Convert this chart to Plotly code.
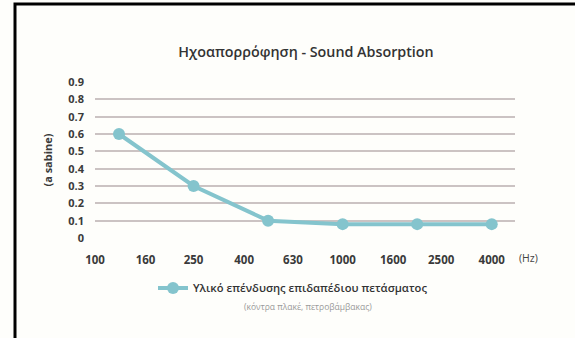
import plotly.graph_objects as go

# Data
frequencies = [125, 250, 500, 1000, 2000, 4000]
absorption = [0.60, 0.30, 0.10, 0.08, 0.08, 0.08]
x_tick_vals = [100, 160, 250, 400, 630, 1000, 1600, 2500, 4000]
x_tick_text = ["100", "160", "250", "400", "630", "1000", "1600", "2500", "4000"]
y_tick_vals = [0, 0.1, 0.2, 0.3, 0.4, 0.5, 0.6, 0.7, 0.8, 0.9]
y_tick_text = ["0", "0.1", "0.2", "0.3", "0.4", "0.5", "0.6", "0.7", "0.8", "0.9"]
series_name = "Υλικό επένδυσης επιδαπέδιου πετάσματος"
series_note = "(κόντρα πλακέ, πετροβάμβακας)"
title_text = "Ηχοαπορρόφηση - Sound Absorption"

W, H = 575, 338
L, R, T, B = 95, 60, 82, 100
pw, ph = W - L - R, H - T - B

def px_x(p):
    return (p - L) / pw

def px_y(p):
    return (H - B - p) / ph

LINE = "#84c4cd"
GRID = "#cbc3c3"
FONT = "Open Sans"

fig = go.Figure()
fig.add_trace(go.Scatter(
    x=frequencies, y=absorption, mode="lines+markers", name=series_name,
    line=dict(color=LINE, width=4),
    marker=dict(color=LINE, size=12),
))

fig.update_layout(
    width=W, height=H,
    margin=dict(l=L, r=R, t=T, b=B),
    paper_bgcolor="#fefefb", plot_bgcolor="#fefefb",
    font=dict(family=FONT, color="#3a3a3a"),
    title=dict(text=title_text, x=306 / W, xanchor="center", xref="container",
               y=1 - 52 / H, yanchor="middle", yref="container",
               font=dict(size=14.3, family=FONT, weight=600, color="#333333")),
    xaxis=dict(type="log", range=[2, 3.696], tickvals=x_tick_vals, ticktext=x_tick_text,
               showgrid=False, zeroline=False, showline=False, ticks="",
               tickfont=dict(size=11.5, family=FONT, weight=700, color="#3a3a3a"),
               ticklabelstandoff=13),
    yaxis=dict(range=[0, 0.9], tickvals=y_tick_vals, ticktext=y_tick_text,
               showgrid=True, gridcolor=GRID, gridwidth=1.5, zeroline=False,
               showline=False, ticks="",
               tickfont=dict(size=11, family=FONT, weight=700, color="#3a3a3a"),
               ticklabelstandoff=10,
               title=dict(text="(a sabine)", standoff=13,
                          font=dict(size=11, family=FONT, weight=700, color="#3a3a3a"))),
    showlegend=True,
    legend=dict(orientation="h", x=px_x(153), xanchor="left", y=px_y(288), yanchor="middle",
                bgcolor="rgba(0,0,0,0)",
                font=dict(size=11.2, family=FONT, weight=600, color="#333333")),
    annotations=[
        dict(text="(Hz)", x=px_x(528), y=px_y(258), xref="paper", yref="paper",
             xanchor="center", yanchor="middle",
             showarrow=False, font=dict(size=10.5, family=FONT, color="#444444")),
        dict(text=series_note, x=px_x(308), y=px_y(306), xref="paper", yref="paper",
             xanchor="center", yanchor="middle",
             showarrow=False, font=dict(size=8.5, family=FONT, color="#9a9a9a")),
    ],
    shapes=[
        dict(type="path", xref="paper", yref="paper",
             path=f"M {px_x(15)} {px_y(340)} L {px_x(15)} {px_y(4)} L {px_x(580)} {px_y(4)}",
             line=dict(color="#000000", width=3)),
    ],
)

fig.write_html("out.html", config={"displayModeBar": False},
               post_script="document.body.style.margin='0';")
